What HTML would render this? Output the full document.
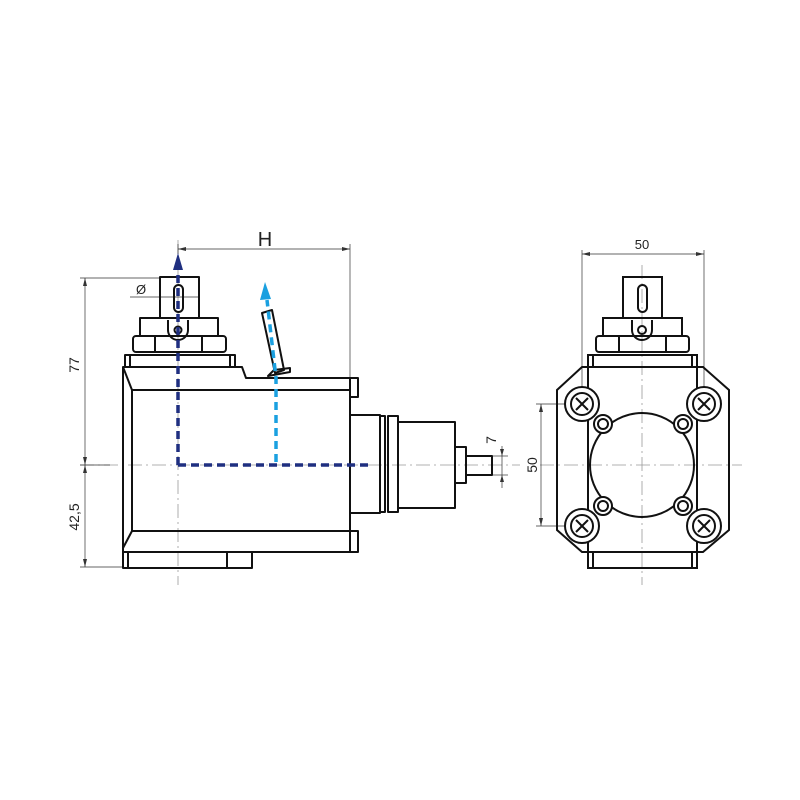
<!DOCTYPE html>
<html><head><style>body{margin:0;background:#fff}svg{display:block}</style></head>
<body>
<svg width="800" height="800" viewBox="0 0 800 800" xmlns="http://www.w3.org/2000/svg" font-family="Liberation Sans, sans-serif">
<rect width="800" height="800" fill="#fff"/>
<!-- centerlines -->
<g stroke="#999" stroke-width="0.8" stroke-dasharray="14,4,2,4" fill="none">
<line x1="80" y1="465" x2="520" y2="465"/>
<line x1="178" y1="240" x2="178" y2="585"/>
<line x1="540" y1="465" x2="742" y2="465"/>
<line x1="642" y1="265" x2="642" y2="585"/>
</g>
<!-- dimension lines -->
<g stroke="#333" stroke-width="0.7" fill="none">
<line x1="178" y1="249" x2="350" y2="249"/>
<line x1="350" y1="244" x2="350" y2="378"/>
<line x1="178" y1="244" x2="178" y2="254"/>
<line x1="80" y1="278" x2="160" y2="278"/>
<line x1="85" y1="278" x2="85" y2="567"/>
<line x1="80" y1="465" x2="110" y2="465"/>
<line x1="80" y1="567" x2="123" y2="567"/>
<line x1="130" y1="297" x2="198" y2="297"/>
<line x1="502" y1="446" x2="502" y2="488"/>
<line x1="492" y1="456" x2="508" y2="456"/>
<line x1="492" y1="475" x2="508" y2="475"/>
<line x1="582" y1="254" x2="704" y2="254"/>
<line x1="582" y1="250" x2="582" y2="390"/>
<line x1="704" y1="250" x2="704" y2="390"/>
<line x1="541" y1="404" x2="541" y2="526"/>
<line x1="536" y1="404" x2="575" y2="404"/>
<line x1="536" y1="526" x2="575" y2="526"/>
</g>
<g fill="#333">
<polygon points="178,249 186,247 186,251"/><polygon points="350,249 342,247 342,251"/>
<polygon points="85,278 83,286 87,286"/><polygon points="85,465 83,457 87,457"/>
<polygon points="85,465 83,473 87,473"/><polygon points="85,567 83,559 87,559"/>
<polygon points="502,456 500,449 504,449"/><polygon points="502,475 500,482 504,482"/>
<polygon points="582,254 590,252 590,256"/><polygon points="704,254 696,252 696,256"/>
<polygon points="541,404 539,412 543,412"/><polygon points="541,526 539,518 543,518"/>
</g>
<g fill="#222">
<text x="265" y="246" font-size="20" text-anchor="middle">H</text>
<text x="141" y="294" font-size="13" text-anchor="middle">Ø</text>
<text x="642" y="249" font-size="13" text-anchor="middle">50</text>
<text transform="translate(79,365) rotate(-90)" font-size="14" text-anchor="middle">77</text>
<text transform="translate(79,517) rotate(-90)" font-size="14" text-anchor="middle">42,5</text>
<text transform="translate(496,440) rotate(-90)" font-size="14" text-anchor="middle">7</text>
<text transform="translate(537,465) rotate(-90)" font-size="14" text-anchor="middle">50</text>
</g>
<!-- LEFT VIEW -->
<g stroke="#111" stroke-width="2" fill="none" stroke-linejoin="round">
<path d="M123,367 L242,367 L246,378 L358,378 L358,397 L350,397 L350,531 L358,531 L358,552 L123,552 Z"/>
<line x1="350" y1="378" x2="350" y2="397"/>
<line x1="132" y1="390" x2="350" y2="390"/>
<line x1="132" y1="390" x2="132" y2="531"/>
<line x1="132" y1="531" x2="350" y2="531"/>
<line x1="350" y1="531" x2="350" y2="552"/>
<line x1="123" y1="367" x2="132" y2="390"/>
<line x1="132" y1="531" x2="123" y2="548"/>
<rect x="123" y="552" width="129" height="16"/>
<line x1="128" y1="552" x2="128" y2="568"/>
<line x1="227" y1="552" x2="227" y2="568"/>
<rect x="125" y="355" width="110" height="12"/>
<line x1="130" y1="355" x2="130" y2="367"/>
<line x1="230" y1="355" x2="230" y2="367"/>
<rect x="133" y="336" width="93" height="16" rx="3"/>
<line x1="155" y1="336" x2="155" y2="352"/>
<line x1="202" y1="336" x2="202" y2="352"/>
<rect x="140" y="318" width="78" height="18"/>
<rect x="160" y="277" width="39" height="41"/>
<rect x="174" y="285" width="9" height="27" rx="4.5"/>
<path d="M168,320 L168,330 A10,10 0 0 0 188,330 L188,320"/>
<circle cx="178" cy="330" r="3.5"/>
<rect x="350" y="415" width="30" height="98"/>
<rect x="380" y="416" width="5" height="96"/>
<rect x="388" y="416" width="10" height="96"/>
<rect x="398" y="422" width="57" height="86"/>
<rect x="455" y="447" width="11" height="36"/>
<rect x="466" y="456" width="26" height="19"/>
<polygon points="262,313 272,310 284,370 275,373"/>
<path d="M268,376 L290,372 L290,368 L274,370 Z"/>
</g>
<!-- blue dashed -->
<g fill="none" stroke-width="3.5">
<path d="M178,465 L178,270" stroke="#1f2f80" stroke-dasharray="8,5"/>
<path d="M178,465 L370,465" stroke="#1f2f80" stroke-dasharray="8,5"/>
<path d="M276,462 L276,378 L267,300" stroke="#1aa0e0" stroke-dasharray="8,5"/>
</g>
<polygon points="178,253 173,270 183,270" fill="#1f2f80"/>
<polygon points="265,282 260,300 271,299" fill="#1aa0e0"/>
<!-- RIGHT VIEW -->
<g stroke="#111" stroke-width="2" fill="none">
<polygon points="582,367 703,367 729,390 729,530 703,552 582,552 557,530 557,390"/>
<line x1="588" y1="367" x2="588" y2="552"/>
<line x1="697" y1="367" x2="697" y2="552"/>
<rect x="588" y="552" width="109" height="16"/>
<line x1="593" y1="552" x2="593" y2="568"/>
<line x1="692" y1="552" x2="692" y2="568"/>
<rect x="588" y="355" width="109" height="12"/>
<line x1="593" y1="355" x2="593" y2="367"/>
<line x1="692" y1="355" x2="692" y2="367"/>
<rect x="596" y="336" width="93" height="16" rx="3"/>
<line x1="619" y1="336" x2="619" y2="352"/>
<line x1="666" y1="336" x2="666" y2="352"/>
<rect x="603" y="318" width="79" height="18"/>
<rect x="623" y="277" width="39" height="41"/>
<rect x="638" y="285" width="9" height="27" rx="4.5"/>
<path d="M632,320 L632,330 A10,10 0 0 0 652,330 L652,320"/>
<circle cx="642" cy="330" r="4"/>
<circle cx="642" cy="465" r="52"/>
<g id="s">
<circle cx="582" cy="404" r="17" fill="#fff"/><circle cx="582" cy="404" r="11"/>
<path d="M576,398 L588,410 M588,398 L576,410"/>
</g>
<circle cx="704" cy="404" r="17" fill="#fff"/><circle cx="704" cy="404" r="11"/><path d="M698,398 L710,410 M710,398 L698,410"/>
<circle cx="582" cy="526" r="17" fill="#fff"/><circle cx="582" cy="526" r="11"/><path d="M576,520 L588,532 M588,520 L576,532"/>
<circle cx="704" cy="526" r="17" fill="#fff"/><circle cx="704" cy="526" r="11"/><path d="M698,520 L710,532 M710,520 L698,532"/>
<circle cx="603" cy="424" r="9" fill="#fff"/><circle cx="603" cy="424" r="5"/>
<circle cx="683" cy="424" r="9" fill="#fff"/><circle cx="683" cy="424" r="5"/>
<circle cx="603" cy="506" r="9" fill="#fff"/><circle cx="603" cy="506" r="5"/>
<circle cx="683" cy="506" r="9" fill="#fff"/><circle cx="683" cy="506" r="5"/>
</g>
</svg>
</body></html>
